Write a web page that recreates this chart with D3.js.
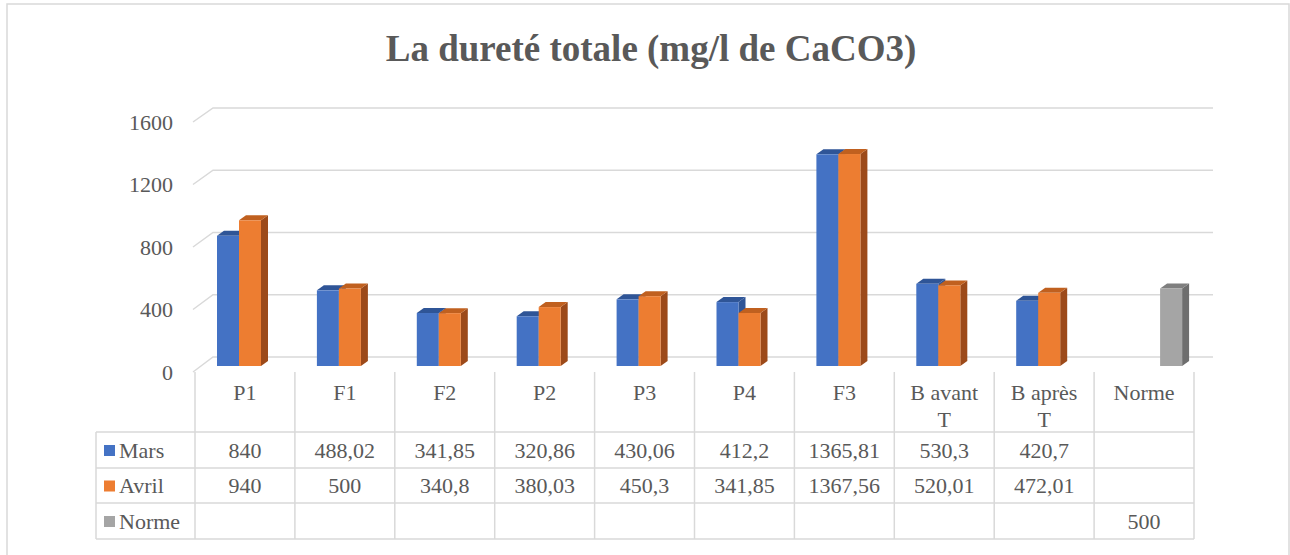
<!DOCTYPE html>
<html>
<head>
<meta charset="utf-8">
<script src="https://cdn.jsdelivr.net/npm/d3@7"></script>
<style>
  body { margin: 0; background: #fff; }
  svg text { font-family: "Liberation Serif", "DejaVu Serif", serif; }
</style>
</head>
<body>
<svg id="chart" width="1290" height="555"></svg>
<script>
// data
const categories = ['P1', 'F1', 'F2', 'P2', 'P3', 'P4', 'F3', 'B avant T', 'B après T', 'Norme'];
const categoryLines = [['P1'], ['F1'], ['F2'], ['P2'], ['P3'], ['P4'], ['F3'], ['B avant', 'T'], ['B après', 'T'], ['Norme']];
const series = ['Mars', 'Avril', 'Norme'];
const mars = [840, 488.02, 341.85, 320.86, 430.06, 412.2, 1365.81, 530.3, 420.7, null];
const avril = [940, 500, 340.8, 380.03, 450.3, 341.85, 1367.56, 520.01, 472.01, null];
const norme = [null, null, null, null, null, null, null, null, null, 500];
const yTicks = [0, 400, 800, 1200, 1600];

const colors = {
  Mars: { front: '#4472C4', top: '#2F5597', side: '#2F5597' },
  Avril: { front: '#ED7D31', top: '#C0601F', side: '#9C4A1A' },
  Norme: { front: '#A5A5A5', top: '#7F7F7F', side: '#6E6E6E' }
};
const textColor = '#595959';
const lineColor = '#D9D9D9';
const serif = '"Liberation Serif", "DejaVu Serif", serif';
const fs = '22px';

const svg = d3.select('#chart');
const values = { Mars: mars, Avril: avril, Norme: norme };

// outer frame
svg.append('rect')
  .attr('x', 7).attr('y', 4).attr('width', 1282).attr('height', 560)
  .attr('fill', 'none').attr('stroke', lineColor).attr('stroke-width', 1.5);

// title
svg.append('text')
  .attr('x', 651).attr('y', 61)
  .attr('text-anchor', 'middle')
  .attr('fill', textColor)
  .attr('font-family', serif)
  .style('font-size', '37px').style('font-weight', 'bold')
  .text('La dureté totale (mg/l de CaCO3)');

// scales
const x = d3.scaleBand().domain(categories).range([195, 1194]);
const xs = d3.scaleBand().domain(series).range([0, 66]);
const yFront = d3.scaleLinear().domain([0, 1600]).range([372, 122]);
const yBack = d3.scaleLinear().domain([0, 1600]).range([357, 108]);
const yBar = d3.scaleLinear().domain([0, 1600]).range([366, 118]);

// back wall gridlines with the side-wall diagonal
const grid = svg.append('g').attr('stroke', lineColor).attr('stroke-width', 1.5).attr('fill', 'none');
yTicks.forEach(v => {
  grid.append('path').attr('d', `M193,${yFront(v)}L213,${yBack(v)}L1213,${yBack(v)}`);
});

// axis labels
svg.append('g').selectAll('text').data(yTicks).join('text')
  .attr('x', 173).attr('y', d => yFront(d)).attr('dy', '0.35em')
  .attr('text-anchor', 'end').attr('fill', textColor)
  .attr('font-family', serif)
  .style('font-size', fs)
  .text(d => d);

// 3D bars
const bw = xs.bandwidth();
const ddx = 7, ddy = -5;
const bars = svg.append('g');
categories.forEach((c, i) => {
  series.forEach(s => {
    const v = values[s][i];
    if (v == null) return;
    const x0 = x(c) + 22 + xs(s), x1 = x0 + bw;
    const yt = yBar(v), yb = yBar(0);
    const col = colors[s];
    bars.append('path').attr('fill', col.side)
      .attr('d', `M${x1},${yt}L${x1 + ddx},${yt + ddy}L${x1 + ddx},${yb + ddy}L${x1},${yb}Z`);
    bars.append('path').attr('fill', col.top)
      .attr('d', `M${x0},${yt}L${x0 + ddx},${yt + ddy}L${x1 + ddx},${yt + ddy}L${x1},${yt}Z`);
    bars.append('rect').attr('fill', col.front)
      .attr('x', x0).attr('y', yt).attr('width', bw).attr('height', yb - yt);
  });
});

// data table
const table = svg.append('g');
const tl = table.append('g').attr('stroke', lineColor).attr('stroke-width', 1.5);
const rowY = [432, 468, 503, 539];
const colX = categories.map(c => x(c)).concat([x.range()[1]]);
// header dividers
colX.forEach(cx => tl.append('line').attr('x1', cx).attr('x2', cx).attr('y1', 372).attr('y2', 539));
// row lines
rowY.forEach(ry => tl.append('line').attr('x1', 96).attr('x2', 1194).attr('y1', ry).attr('y2', ry));
tl.append('line').attr('x1', 96).attr('x2', 96).attr('y1', 432).attr('y2', 539);

// header labels
categoryLines.forEach((lines, i) => {
  const t = table.append('text')
    .attr('x', x(categories[i]) + x.bandwidth() / 2)
    .attr('y', 400)
    .attr('text-anchor', 'middle').attr('fill', textColor)
    .attr('font-family', serif)
    .style('font-size', fs);
  lines.forEach((ln, k) => {
    t.append('tspan').attr('x', x(categories[i]) + x.bandwidth() / 2)
      .attr('dy', k === 0 ? 0 : 27).text(ln);
  });
});

// rows
const fmt = v => v == null ? '' : String(v).replace('.', ',');
series.forEach((s, r) => {
  const cy = (rowY[r] + rowY[r + 1]) / 2;
  table.append('rect').attr('x', 104).attr('y', cy - 5).attr('width', 11).attr('height', 11)
    .attr('fill', colors[s].front);
  table.append('text').attr('x', 119).attr('y', cy).attr('dy', '0.35em')
    .attr('fill', textColor).attr('font-family', serif)
    .style('font-size', fs).text(s);
  values[s].forEach((v, i) => {
    table.append('text')
      .attr('x', x(categories[i]) + x.bandwidth() / 2).attr('y', cy).attr('dy', '0.35em')
      .attr('text-anchor', 'middle').attr('fill', textColor)
      .attr('font-family', serif)
      .style('font-size', fs)
      .text(fmt(v));
  });
});
</script>
</body>
</html>
